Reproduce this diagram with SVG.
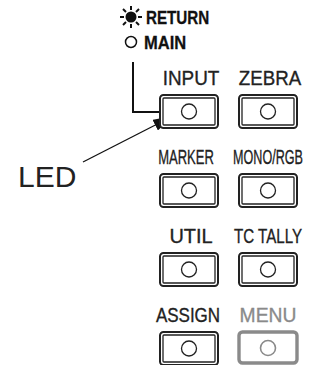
<svg xmlns="http://www.w3.org/2000/svg" width="321" height="365" viewBox="0 0 321 365">
<style>
.lbl{font-family:"Liberation Sans",Arial,sans-serif;font-size:21px;fill:#222;stroke:#222;stroke-width:0.35;text-anchor:middle}
.hdr{font-family:"Liberation Sans",Arial,sans-serif;font-size:19px;font-weight:bold;fill:#111;stroke:#111;stroke-width:0.3}
.outer{fill:#fff;stroke:#222;stroke-width:2}
.inner{fill:none;stroke:#222;stroke-width:1.3}
.led{fill:#fff;stroke:#222;stroke-width:1.3}
.grey .outer{stroke:#8a8a8a;stroke-width:3.4}
.grey .led{stroke:#8a8a8a;stroke-width:1.6}
.grey .lbl{fill:#8a8a8a;stroke:#8a8a8a}
</style>
<defs>
<marker id="ah" markerWidth="20" markerHeight="12" refX="20" refY="6" orient="auto" markerUnits="userSpaceOnUse">
<path d="M0,0 L20,6 L0,12 Z" fill="#111"/>
</marker>
<g id="btn">
<rect class="outer" x="0" y="0" width="58" height="33" rx="3.5"/>
<rect class="inner" x="3" y="3" width="52" height="27" rx="1"/>
<circle class="led" cx="29" cy="16.5" r="7.5"/>
</g>
</defs>
<g id="legend">
<g id="sun" stroke="#111" stroke-width="2">
<circle cx="131" cy="17" r="5.5" fill="#111" stroke="none"/>
<line x1="120" y1="17" x2="124" y2="17"/>
<line x1="138" y1="17" x2="142" y2="17"/>
<line x1="131" y1="6" x2="131" y2="10"/>
<line x1="131" y1="24" x2="131" y2="28"/>
<line x1="123" y1="9" x2="126" y2="12"/>
<line x1="136" y1="22" x2="139" y2="25"/>
<line x1="139" y1="9" x2="136" y2="12"/>
<line x1="123" y1="25" x2="126" y2="22"/>
</g>
<text class="hdr" transform="translate(146,24) scale(0.8,1)">RETURN</text>
<circle cx="131" cy="42" r="5.5" fill="#fff" stroke="#111" stroke-width="1.5"/>
<text class="hdr" transform="translate(144,49) scale(0.87,1)">MAIN</text>
</g>
<g id="connectors" fill="none" stroke="#111">
<polyline points="133,62 133,112 159,112" stroke-width="2"/>
<line x1="83" y1="162" x2="173" y2="116" stroke-width="1.3" marker-end="url(#ah)"/>
</g>
<g id="led-label">
<text x="18" y="187" font-family="Liberation Sans,Arial,sans-serif" font-size="30" fill="#222">LED</text>
</g>
<g id="input"><text class="lbl" transform="translate(191,85) scale(0.9,1)">INPUT</text><use href="#btn" x="160" y="95"/></g>
<g id="zebra"><text class="lbl" transform="translate(270,85) scale(0.89,1)">ZEBRA</text><use href="#btn" x="239" y="95"/></g>
<g id="marker"><text class="lbl" transform="translate(186,164) scale(0.62,1)">MARKER</text><use href="#btn" x="160" y="174"/></g>
<g id="mono"><text class="lbl" transform="translate(268,164) scale(0.6,1)">MONO/RGB</text><use href="#btn" x="239" y="174"/></g>
<g id="util"><text class="lbl" transform="translate(191,243) scale(0.95,1)">UTIL</text><use href="#btn" x="160" y="253"/></g>
<g id="tctally"><text class="lbl" transform="translate(268,243) scale(0.72,1)">TC TALLY</text><use href="#btn" x="239" y="253"/></g>
<g id="assign"><text class="lbl" transform="translate(188,322) scale(0.81,1)">ASSIGN</text><use href="#btn" x="160" y="332"/></g>
<g id="menu" class="grey"><text class="lbl" transform="translate(268,322) scale(0.92,1)">MENU</text>
<rect class="outer" x="239" y="332" width="58" height="31" rx="3.5"/>
<circle class="led" cx="268" cy="348" r="7.5"/></g>
</svg>
